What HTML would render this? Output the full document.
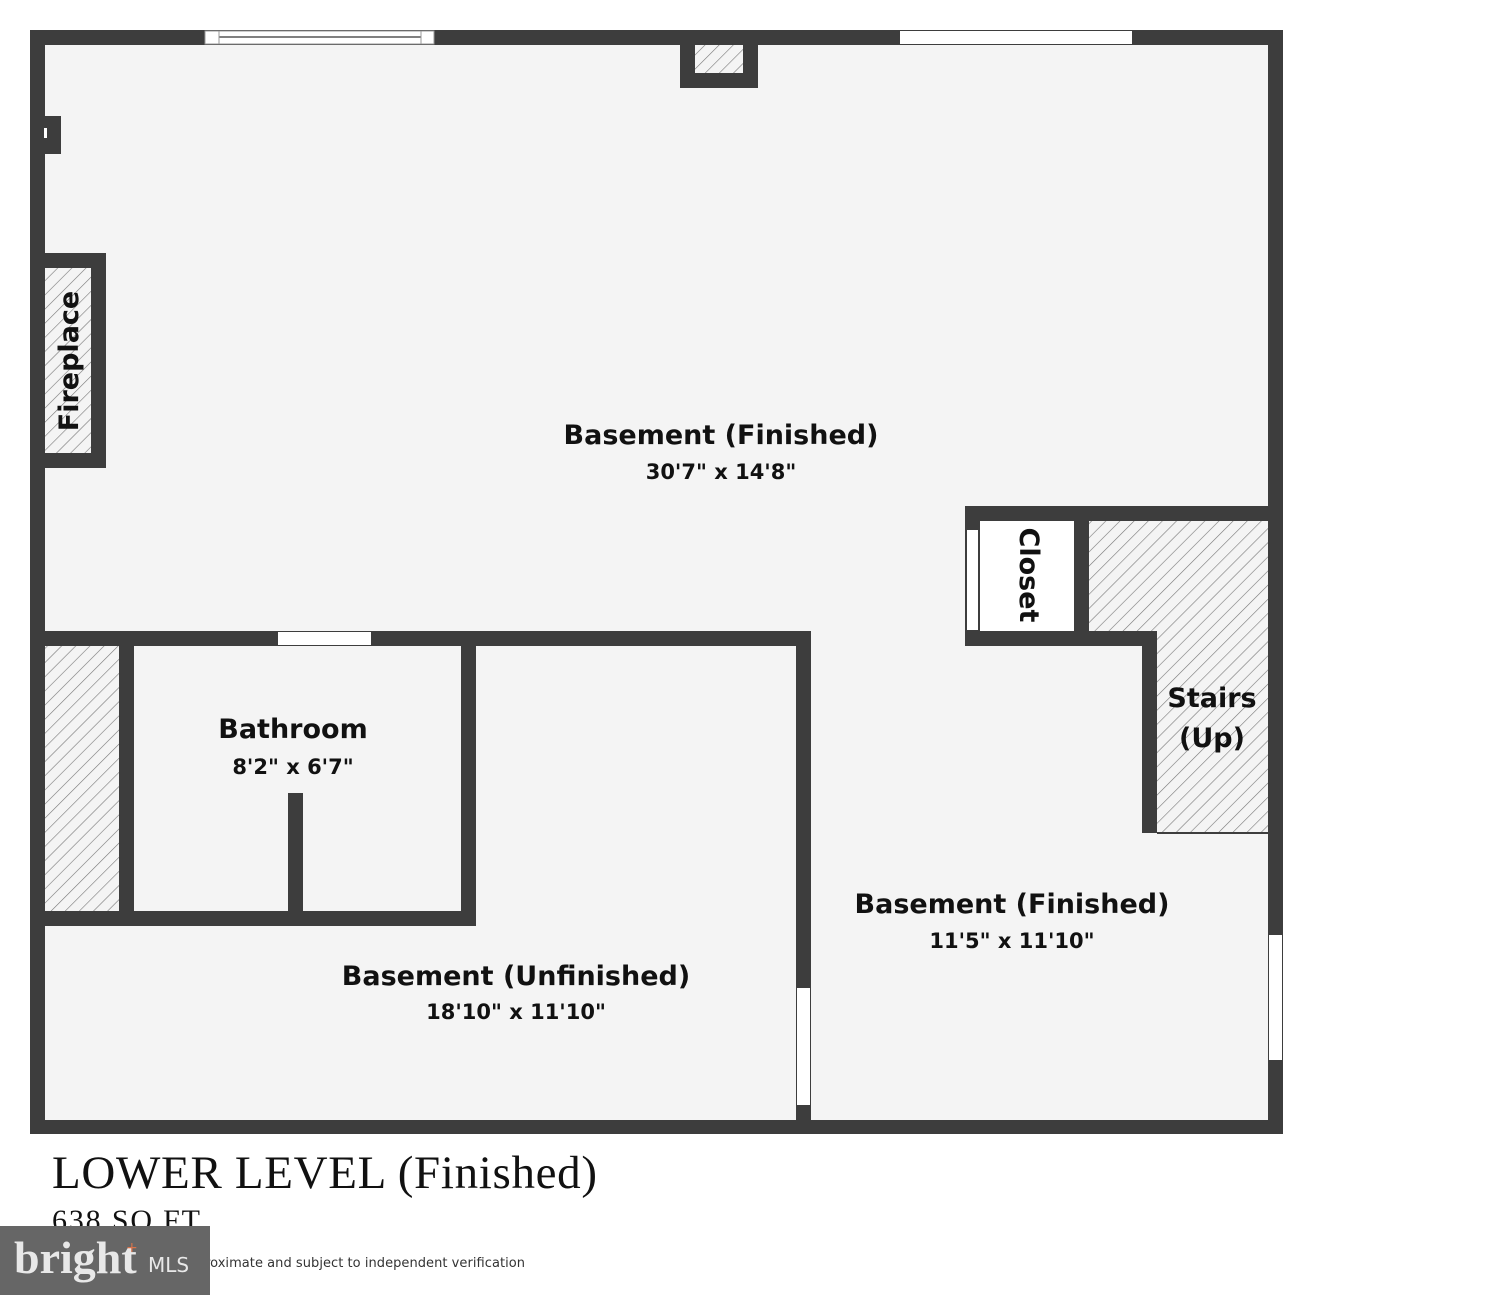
<!DOCTYPE html>
<html><head><meta charset="utf-8"><style>
html,body{margin:0;padding:0;background:#fff;}
body{width:1501px;height:1295px;position:relative;overflow:hidden;}
svg{position:absolute;left:0;top:0;}
.lbl{font-family:"DejaVu Sans","Liberation Sans",sans-serif;font-weight:bold;fill:#111;}
</style></head><body>
<svg width="1501" height="1295" viewBox="0 0 1501 1295" xmlns="http://www.w3.org/2000/svg">
<defs>
<pattern id="h" patternUnits="userSpaceOnUse" width="10" height="10" patternTransform="rotate(45)">
<rect width="10" height="10" fill="#f4f4f4"/>
<line x1="0" y1="0" x2="0" y2="10" stroke="#777" stroke-width="1.2"/>
</pattern>
</defs>
<rect x="30" y="30" width="1253" height="1104" fill="#f4f4f4"/>
<!-- hatches first -->
<rect x="695" y="45" width="48" height="28" fill="url(#h)"/>
<rect x="45" y="268" width="46" height="185" fill="url(#h)"/>
<rect x="45" y="646" width="74" height="265" fill="url(#h)"/>
<path d="M1089 521 H1268 V833 H1157 V646 H1089 Z" fill="url(#h)"/>
<line x1="1157" y1="833" x2="1268" y2="833" stroke="#3d3d3d" stroke-width="2"/>
<rect x="980" y="521" width="94" height="110" fill="#fff"/>
<g fill="#3d3d3d">
<rect x="30" y="30" width="1253" height="15"/>
<rect x="30" y="30" width="15" height="1104"/>
<rect x="1268" y="30" width="15" height="1104"/>
<rect x="30" y="1120" width="1253" height="14"/>
<rect x="680" y="30" width="78" height="15"/>
<rect x="680" y="30" width="15" height="58"/>
<rect x="743" y="30" width="15" height="58"/>
<rect x="680" y="73" width="78" height="15"/>
<rect x="30" y="116" width="31" height="38"/>
<rect x="30" y="253" width="76" height="15"/>
<rect x="30" y="453" width="76" height="15"/>
<rect x="91" y="253" width="15" height="215"/>
<rect x="30" y="631" width="781" height="15"/>
<rect x="119" y="631" width="15" height="295"/>
<rect x="461" y="631" width="15" height="295"/>
<rect x="30" y="911" width="446" height="15"/>
<rect x="288" y="793" width="15" height="125"/>
<rect x="796" y="631" width="15" height="503"/>
<rect x="965" y="506" width="318" height="15"/>
<rect x="965" y="506" width="15" height="140"/>
<rect x="965" y="631" width="192" height="15"/>
<rect x="1074" y="506" width="15" height="140"/>
<rect x="1142" y="631" width="15" height="202"/>
</g>
<rect x="205" y="31" width="229" height="13" fill="#fff" stroke="#999" stroke-width="1"/>
<line x1="219" y1="37" x2="421" y2="37" stroke="#000" stroke-width="1"/>
<line x1="219" y1="31" x2="219" y2="44" stroke="#999"/>
<line x1="421" y1="31" x2="421" y2="44" stroke="#999"/>
<rect x="900" y="31" width="232" height="13" fill="#fff"/>
<rect x="44" y="128" width="3" height="10" fill="#fff"/>
<rect x="278" y="632" width="93" height="13" fill="#fff"/>
<rect x="797" y="988" width="13" height="117" fill="#fff"/>
<rect x="1269" y="935" width="13" height="125" fill="#fff"/>
<rect x="967" y="530" width="11" height="100" fill="#fff"/>
<text class="lbl" x="721" y="444" font-size="27" text-anchor="middle">Basement (Finished)</text>
<text class="lbl" x="721" y="479" font-size="21" text-anchor="middle">30'7" x 14'8"</text>
<text class="lbl" x="293" y="738" font-size="27" text-anchor="middle">Bathroom</text>
<text class="lbl" x="293" y="774" font-size="21" text-anchor="middle">8'2" x 6'7"</text>
<text class="lbl" x="1012" y="913" font-size="27" text-anchor="middle">Basement (Finished)</text>
<text class="lbl" x="1012" y="948" font-size="21" text-anchor="middle">11'5" x 11'10"</text>
<text class="lbl" x="516" y="985" font-size="27" text-anchor="middle">Basement (Unfinished)</text>
<text class="lbl" x="516" y="1019" font-size="21" text-anchor="middle">18'10" x 11'10"</text>
<text class="lbl" x="1212" y="707" font-size="27" text-anchor="middle">Stairs</text>
<text class="lbl" x="1212" y="747" font-size="27" text-anchor="middle">(Up)</text>
<text class="lbl" font-size="27" text-anchor="middle" transform="translate(78,361) rotate(-90)">Fireplace</text>
<text class="lbl" font-size="27" text-anchor="middle" transform="translate(1020,575) rotate(90)">Closet</text>
<text x="52" y="1188" font-family="Liberation Serif, serif" font-size="47" fill="#111" textLength="545">LOWER LEVEL (Finished)</text>
<text x="52" y="1230" font-family="Liberation Serif, serif" font-size="30" fill="#111" textLength="148">638 SQ FT</text>
<text x="205" y="1267" font-family="DejaVu Sans, Liberation Sans, sans-serif" font-size="13" fill="#333" textLength="320">roximate and subject to independent verification</text>
<rect x="0" y="1226" width="210" height="69" fill="#666"/>
<text x="14" y="1273" font-family="Liberation Serif, serif" font-size="46" font-weight="bold" fill="#e8e8e8">bright</text>
<text x="148" y="1272" font-family="DejaVu Sans, sans-serif" font-size="20" fill="#e8e8e8">MLS</text>
<text x="126" y="1252" font-family="DejaVu Sans, sans-serif" font-size="14" fill="#d9734a">+</text>
</svg>
</body></html>
